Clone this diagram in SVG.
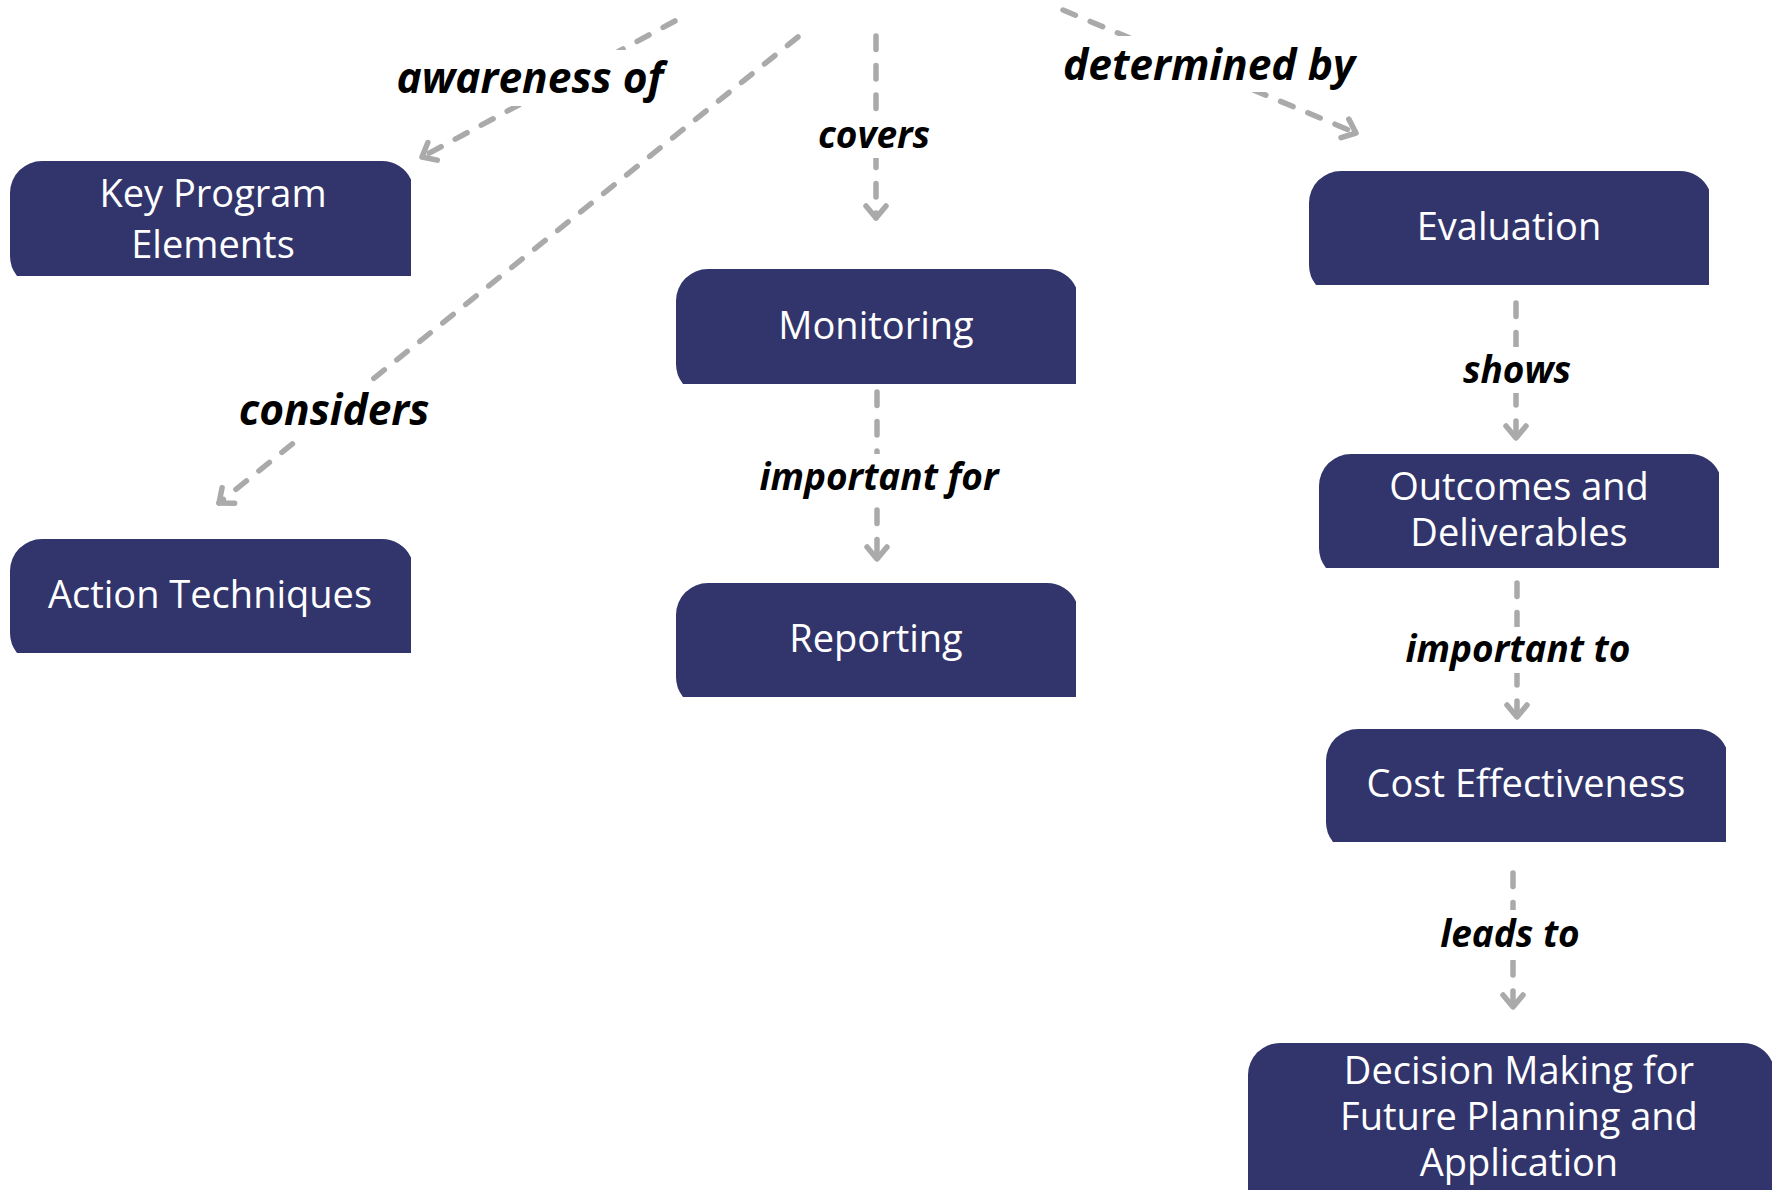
<svg xmlns="http://www.w3.org/2000/svg" width="1780" height="1190" viewBox="0 0 1780 1190">
<style>
.node{fill:#32356b}
.nt{font-family:"Open Sans","Noto Sans","Liberation Sans",sans-serif;font-size:38px;fill:#ffffff;text-anchor:middle}
.edge{fill:none;stroke:#aaaaaa;stroke-width:5.5;stroke-linecap:round;stroke-dasharray:13.5 16}
.lbg{fill:#ffffff}
.lbl{font-family:"Open Sans","Noto Sans","Liberation Sans",sans-serif;font-weight:bold;font-style:italic;fill:#000000;text-anchor:middle}
.big{font-size:42.5px}
.small{font-size:37px}
</style>
<defs>
<marker id="arr" markerUnits="userSpaceOnUse" viewBox="-16 -14 20 28" markerWidth="20" markerHeight="28" refX="0" refY="0" orient="auto" overflow="visible">
<path d="M-12,-10 L0,0 L-12,10" fill="none" stroke="#aaaaaa" stroke-width="5.5" stroke-linecap="round" stroke-linejoin="round" stroke-dasharray="none"/>
</marker>
</defs>
<rect width="1780" height="1190" fill="#ffffff"/>
<g id="connectors">
<path class="edge" d="M675,21 L422,157" marker-end="url(#arr)"/>
<path class="edge" d="M798,37 L219,503" marker-end="url(#arr)"/>
<path class="edge" d="M876,36 L876,218" marker-end="url(#arr)"/>
<path class="edge" d="M1063,10 L1356,133" marker-end="url(#arr)"/>
<path class="edge" d="M877,392 L877,559" marker-end="url(#arr)"/>
<path class="edge" d="M1516,303 L1516,438" marker-end="url(#arr)"/>
<path class="edge" d="M1517,583 L1517,717" marker-end="url(#arr)"/>
<path class="edge" d="M1513,873 L1513,1007" marker-end="url(#arr)"/>
<g id="labels">
<rect class="lbg" x="392" y="50" width="276" height="56"/>
<text class="lbl big" x="530" y="93">awareness of</text>
<rect class="lbg" x="226" y="382" width="216" height="56"/>
<text class="lbl big" x="334" y="425">considers</text>
<rect class="lbg" x="814" y="112" width="120" height="46"/>
<text class="lbl small" x="874" y="148">covers</text>
<rect class="lbg" x="754" y="454" width="250" height="46"/>
<text class="lbl small" x="879" y="490">important for</text>
<rect class="lbg" x="1060" y="36" width="300" height="56"/>
<text class="lbl big" x="1209" y="80">determined by</text>
<rect class="lbg" x="1458" y="347" width="118" height="46"/>
<text class="lbl small" x="1517" y="383">shows</text>
<rect class="lbg" x="1400" y="627" width="236" height="46"/>
<text class="lbl small" x="1518" y="662">important to</text>
<rect class="lbg" x="1436" y="910" width="150" height="50"/>
<text class="lbl small" x="1510" y="947">leads to</text>
</g>
</g>
<g id="node-key-program-elements">
<path class="node" d="M10,193 A32,32 0 0 1 42,161 H382 A32,32 0 0 1 411,179.5 V276 H17 A32,32 0 0 1 10,256 Z"/>
<text class="nt" x="213" y="207">Key Program</text>
<text class="nt" x="213" y="258">Elements</text>
</g>
<g id="node-action-techniques">
<path class="node" d="M10,571 A32,32 0 0 1 42,539 H382 A32,32 0 0 1 411,557.5 V653 H17 A32,32 0 0 1 10,633 Z"/>
<text class="nt" x="210" y="608">Action Techniques</text>
</g>
<g id="node-monitoring">
<path class="node" d="M676,301 A32,32 0 0 1 708,269 H1047 A32,32 0 0 1 1076,287.5 V384 H683 A32,32 0 0 1 676,364 Z"/>
<text class="nt" x="876" y="339">Monitoring</text>
</g>
<g id="node-reporting">
<path class="node" d="M676,615 A32,32 0 0 1 708,583 H1047 A32,32 0 0 1 1076,601.5 V697 H683 A32,32 0 0 1 676,677 Z"/>
<text class="nt" x="876" y="652">Reporting</text>
</g>
<g id="node-evaluation">
<path class="node" d="M1309,203 A32,32 0 0 1 1341,171 H1680 A32,32 0 0 1 1709,189.5 V285 H1316 A32,32 0 0 1 1309,265 Z"/>
<text class="nt" x="1509" y="240">Evaluation</text>
</g>
<g id="node-outcomes-deliverables">
<path class="node" d="M1319,486 A32,32 0 0 1 1351,454 H1690 A32,32 0 0 1 1719,472.5 V568 H1326 A32,32 0 0 1 1319,548 Z"/>
<text class="nt" x="1519" y="500">Outcomes and</text>
<text class="nt" x="1519" y="546">Deliverables</text>
</g>
<g id="node-cost-effectiveness">
<path class="node" d="M1326,761 A32,32 0 0 1 1358,729 H1697 A32,32 0 0 1 1726,747.5 V842 H1333 A32,32 0 0 1 1326,822 Z"/>
<text class="nt" x="1526" y="797">Cost Effectiveness</text>
</g>
<g id="node-decision-making">
<path class="node" d="M1248,1075 A32,32 0 0 1 1280,1043 H1743 A32,32 0 0 1 1772,1061.5 V1200 H1248 Z"/>
<text class="nt" x="1519" y="1084">Decision Making for</text>
<text class="nt" x="1519" y="1130">Future Planning and</text>
<text class="nt" x="1519" y="1176">Application</text>
</g>
</svg>
